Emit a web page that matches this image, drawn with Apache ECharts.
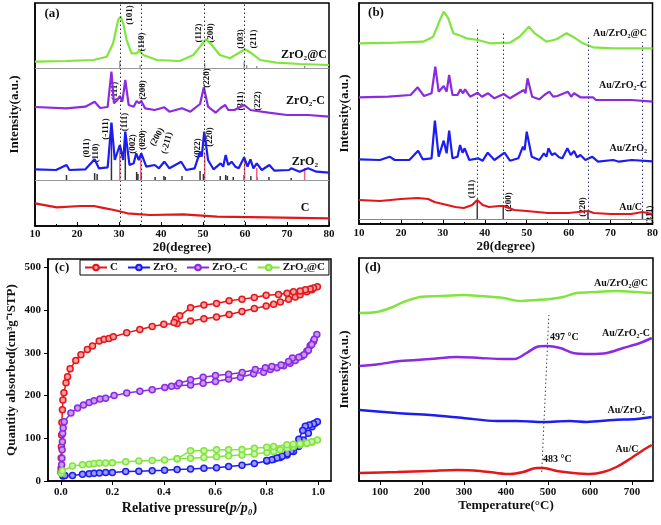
<!DOCTYPE html>
<html><head><meta charset="utf-8">
<script src="https://cdn.jsdelivr.net/npm/echarts@6/dist/echarts.min.js"></script>
<style>html,body{margin:0;padding:0;background:#fff}#c{width:661px;height:525px}</style>
</head><body><div id="c"></div>
<script>
// ---------- Panel (a): XRD of supports (2θ, stacked intensity) ----------
const aC = [[10,22.7],[15.2,18.7],[20.8,20],[24,20],[25.6,18.7],[28.8,16],[32,12.7],[37.4,11],[45.3,11.7],[53.3,9.3],[65.2,8.7],[80,7.7]];
const aZrO2 = [[10,56.7],[15,56],[17.5,61],[18.2,56],[22,56.7],[24.2,66.7],[25.2,57.7],[27.3,58.7],[28.2,103.3],[29,66],[30.2,81],[31,66],[31.5,94.3],[32.5,61],[33.5,62.7],[34.1,72.7],[34.7,66],[35.3,72.7],[36.5,59.3],[38.5,61],[39.5,57.7],[40.8,64.3],[42,57.7],[44.8,64.3],[46,56],[48,57.7],[49.3,74.3],[49.7,69.3],[50.3,94.3],[51.2,66],[52.5,56.7],[54.2,62.7],[54.8,59.3],[55.4,71],[56,61],[56.8,64.3],[57.7,59.3],[58.5,57.7],[59.8,68.7],[60.6,59.3],[61.3,66.7],[62,57.7],[62.8,62.7],[64,56],[65.8,61],[67,55.3],[70.5,56],[71,57.7],[73,54.3],[75,57.7],[77,54.3],[80,53.3]];
const aZrO2C = [[10,119],[17.5,117.7],[22,119.3],[24.2,124.3],[25.5,118],[27.3,119],[28.2,154.3],[28.8,122.7],[29.6,126],[30.2,130],[30.8,124.3],[31.5,146],[32.3,121],[33.5,119.3],[34.2,125],[34.8,122.7],[35.3,125],[36.2,117.7],[38.5,116],[40.8,118.7],[42,114.3],[45,117.7],[47,114.3],[49.3,122],[50.2,138.7],[51.2,119.3],[53,113.3],[54.2,118],[55.3,121],[56,116],[57.5,116],[59.8,121],[61.3,116],[62.8,115],[65.6,113.3],[70,111],[75,111],[80,109.3]];
const aZrO2atC = [[10,164.3],[17.5,165],[23.9,166],[27.1,169.3],[28.6,182.7],[29.8,206],[30.4,209.3],[31,202.7],[31.8,186],[33,172.7],[34.2,172.7],[34.8,175.3],[35.8,171],[39,166],[44.5,165],[47.7,171],[49.3,179.3],[50.7,186.7],[52.1,181],[54,171],[56.4,167.7],[58.4,172.7],[60,176.7],[61.6,172.7],[63.6,166],[67.5,163.3],[73.1,162],[80,161]];
const aRefBaseLow = 45.3, aRefBaseHigh = 157.7;
const aSticksMono = [[17.5,51],[24.2,53],[24.8,52],[28.2,103],[31.5,94],[34.2,54],[34.5,52],[35.3,52],[38.6,49],[40.7,50],[41.0,49],[45.0,50],[49.3,55],[50.1,52],[54.1,50],[55.4,51],[55.8,50],[57.2,49],[59.8,51],[61.4,50],[62.8,49],[65.7,49],[71,48]];
const aSticksTetra = [[30.2,81],[35.2,69],[50.4,73],[59.9,66],[62.8,58],[74.2,58]];
const aSticksTop = [[30.2,165],[35.0,161],[50.4,163],[59.8,164],[60.4,161],[62.8,160],[74.2,160]];
const aDotX = [30.2, 35.2, 50.4, 59.8];

// ---------- Panel (b): XRD of Au catalysts ----------
const bAuC = [[10,24],[15,23],[20,25],[24,26],[26.5,25],[28,22],[30,20],[33,17],[35,16],[37,19],[38.2,24],[39.5,19],[41,17],[43.5,18],[44.5,18],[47,14],[50,13],[55,11],[60,11],[64.6,13],[66,11],[70,10],[75,10],[77.6,12],[80,10]];
const bAuZrO2 = [[10,64.7],[15,64],[17.3,67.3],[18.5,64],[22,64],[24.1,73.3],[25.2,64.7],[27.3,65.7],[28.1,103.3],[29,67.3],[30.2,83.3],[30.9,70.7],[31.5,93.3],[32.3,65.7],[33.5,67.3],[34.1,79],[34.7,71.3],[35.2,75.7],[36.3,64],[38.4,65.7],[39.5,63.3],[40.7,71.3],[42.3,64],[44.7,71.3],[46,63.3],[48,65.7],[49.1,77.3],[49.5,74],[50,92.3],[51.2,67.3],[53,64],[54.1,70.7],[54.7,67.3],[55.2,75.7],[56,69],[56.7,70.7],[57.7,66.7],[58.5,65.7],[59.7,75.7],[60.5,69],[61.3,73],[62,66.7],[62.8,69],[64,64],[65.6,67.3],[67,62.3],[70.6,64],[72,62.3],[75,64],[80,62.7]];
const bAuZrO2C = [[10,126.7],[17,127.3],[22.3,129],[24,136.7],[25.5,128],[27.3,130.7],[28.2,157.3],[29,132.3],[30.2,138],[30.9,132.3],[31.5,149],[32.3,129],[33.5,129],[34.2,134.7],[34.8,130.7],[35.3,134.7],[36.5,127.3],[38.3,131.3],[39.3,127.3],[40.8,130.7],[42.3,125.7],[44.5,130],[46,125.7],[49.3,134],[49.7,130.7],[50.2,145.7],[51.3,127.3],[53,124.7],[54.2,129],[55.4,132.3],[56.3,127.3],[57.3,128],[59.8,132.3],[60.6,127.3],[61.3,130.7],[62.8,126.7],[65.8,126.7],[66.5,124],[70.5,124],[75,124],[80,122.3]];
const bAuZrO2atC = [[10,180.7],[19,181.3],[25.3,182.3],[27.7,187.3],[29.3,204],[30.2,212.3],[31.3,205.7],[32.5,190.7],[34.4,188],[35.6,185.7],[38.4,184],[41.2,180.7],[46,181.3],[48.3,187.3],[50.5,197.3],[51.9,190.7],[54.7,182.3],[57.1,184.7],[59.5,190.7],[61,187.3],[63.4,180.7],[65.8,176.7],[70.6,175.7],[80,175.7]];
const bRefBase = 5;
const bSticksAu = [[38.2,24],[44.4,17],[64.6,12],[77.6,11]];
const bDots = [[38.2,196],[44.4,192],[64.6,187],[77.6,182]];

// ---------- Panel (c): N2 isotherms (p/p0, cm3/g) ----------
const cC = [[0.0005,20],[0.001,30],[0.0015,54],[0.002,80],[0.003,108],[0.004,137],[0.006,167],[0.008,190],[0.012,207],[0.02,230],[0.026,244],[0.036,263],[0.058,282],[0.078,296],[0.103,308],[0.123,316],[0.149,328],[0.168,332],[0.187,334],[0.204,338],[0.256,347],[0.307,355],[0.355,362],[0.40,367],[0.452,369],[0.504,375],[0.556,380],[0.605,384],[0.654,390],[0.704,397],[0.752,404],[0.798,410],[0.827,414],[0.853,419],[0.885,426],[0.911,431],[0.930,436],[0.956,443],[0.976,448],[0.997,455],[0.982,452],[0.969,450],[0.950,448],[0.930,445],[0.904,443],[0.879,440],[0.846,437],[0.798,435],[0.752,430],[0.704,426],[0.654,422],[0.605,416],[0.556,412],[0.504,406],[0.462,387],[0.446,379],[0.44,371]];
const cZrO2 = [[0.008,12],[0.0155,13],[0.045,13],[0.084,16],[0.11,17],[0.129,18],[0.15,19],[0.174,20],[0.2,20],[0.252,22],[0.303,23],[0.355,24],[0.403,25],[0.452,27],[0.504,28],[0.556,30],[0.605,31],[0.652,34],[0.704,37],[0.752,41],[0.801,47],[0.827,51],[0.853,55],[0.879,61],[0.904,69],[0.924,81],[0.943,96],[0.962,112],[0.976,127],[0.988,135],[0.997,139],[0.982,134],[0.966,131],[0.95,128],[0.94,118],[0.925,98],[0.91,80],[0.895,70],[0.88,64],[0.86,58],[0.84,54],[0.82,50],[0.80,48]];
const cZrO2C = [[0.002,22],[0.003,38],[0.004,53],[0.005,73],[0.006,92],[0.007,112],[0.009,124],[0.013,139],[0.039,159],[0.065,171],[0.088,178],[0.11,184],[0.129,188],[0.152,192],[0.174,194],[0.207,200],[0.256,206],[0.307,210],[0.355,214],[0.404,219],[0.452,223],[0.504,225],[0.553,229],[0.601,233],[0.652,239],[0.698,243],[0.749,251],[0.788,255],[0.814,261],[0.840,265],[0.866,270],[0.891,276],[0.911,282],[0.937,292],[0.956,304],[0.969,317],[0.982,327],[0.995,343],[0.985,332],[0.975,320],[0.962,306],[0.945,296],[0.925,290],[0.90,288],[0.885,280],[0.856,272],[0.82,268],[0.795,265],[0.756,261],[0.705,254],[0.652,250],[0.601,247],[0.553,243],[0.504,237],[0.46,229],[0.43,222]];
const cZrO2atC = [[0.002,18],[0.006,24],[0.045,35],[0.084,38],[0.11,39],[0.129,41],[0.149,42],[0.174,42],[0.2,43],[0.252,45],[0.303,47],[0.355,48],[0.403,49],[0.452,52],[0.504,53],[0.556,55],[0.605,57],[0.652,59],[0.704,61],[0.752,63],[0.801,67],[0.827,69],[0.853,73],[0.879,77],[0.904,81],[0.93,85],[0.956,88],[0.976,91],[0.997,96],[0.975,92],[0.956,89],[0.93,87],[0.904,86],[0.879,85],[0.827,81],[0.80,79],[0.752,77],[0.704,74],[0.652,73],[0.605,73],[0.556,71],[0.504,71],[0.452,52]];
const cXTicks = [0,0.2,0.4,0.6,0.8,1.0];
const cYTicks = [0,100,200,300,400,500];

// ---------- Panel (d): TPR-like traces (°C, stacked intensity) ----------
const dAuC = [[51,8],[140,9],[219,10],[283,11],[338,10],[378,8],[410,7],[441,9],[473,13],[489,13],[521,10],[560,8],[600,7],[632,9],[663,14],[695,22],[727,31],[747,36]];
const dAuZrO2 = [[51,71],[140,68],[219,66],[298,63],[378,60],[425,60],[489,59],[552,60],[592,59],[656,61],[711,62],[747,64]];
const dAuZrO2C = [[51,115],[100,117],[148,120],[219,122],[283,124],[338,123],[394,122],[421,122],[449,128],[473,134],[497,135],[529,133],[560,128],[600,127],[640,128],[679,133],[719,138],[747,143]];
const dAuZrO2atC = [[51,168],[92,169],[124,173],[156,179],[195,184],[243,185],[298,186],[338,185],[394,183],[433,180],[473,181],[505,182],[536,184],[568,188],[616,189],[663,190],[711,189],[747,188]];
const dDot = [[485,9],[502,166]];
const dXTicks = [100,200,300,400,500,600,700];

const RED='#e3161b', BLUE='#1d1df2', PURPLE='#8a2be2', GREEN='#82e43e';
const F = '"Liberation Serif","Times New Roman",serif';
const lab = {fontFamily:F, fontWeight:'bold', fontSize:11, color:'#111'};
const nameS = {fontFamily:F, fontWeight:'bold', fontSize:13, color:'#111'};
const DOT = [1.5, 2.5];

function xrdLine(name, data, color, gi){
  return {name, type:'line', xAxisIndex:gi, yAxisIndex:gi, data, symbol:'none',
    lineStyle:{color, width:2.2}, itemStyle:{color}, silent:true};
}
function sticks(data, base, color, gi, w){
  return {type:'custom', xAxisIndex:gi, yAxisIndex:gi, silent:true,
    data: data.map(d=>[d[0], base, d[1]]),
    renderItem:(p, api)=>{
      const a = api.coord([api.value(0), api.value(1)]);
      const b = api.coord([api.value(0), api.value(2)]);
      return {type:'line', shape:{x1:a[0],y1:a[1],x2:b[0],y2:b[1]}, style:{stroke:color, lineWidth:w||1.5}};
    }};
}
function tint(c){ return {[RED]:'#f7a0a0',[BLUE]:'#9a9af8',[PURPLE]:'#c89af0',[GREEN]:'#c8f4a8'}[c]; }
function iso(name, data, color){
  return {name, type:'line', xAxisIndex:2, yAxisIndex:2, data, symbol:'circle', symbolSize:6,
    lineStyle:{color, width:1.5}, itemStyle:{color:tint(color), borderColor:color, borderWidth:1.5}};
}
function tpr(name, data, color){
  return {name, type:'line', xAxisIndex:3, yAxisIndex:3, data, symbol:'none', smooth:0.3,
    lineStyle:{color, width:2.5}, itemStyle:{color}, silent:true};
}
const ml = (data, color) => ({silent:true, symbol:['none','none'], label:{show:false},
  lineStyle:{type:DOT, color, width:1}, data});

const series = [
  xrdLine('aC', aC, RED, 0), xrdLine('aZrO2', aZrO2, BLUE, 0),
  xrdLine('aZrO2C', aZrO2C, PURPLE, 0), xrdLine('aZrO2atC', aZrO2atC, GREEN, 0),
  sticks(aSticksMono, aRefBaseLow, '#333', 0, 1.5),
  sticks(aSticksTetra, aRefBaseLow, '#f06080', 0, 1.5),
  sticks(aSticksTop, aRefBaseHigh, '#888', 0, 1.2),
  xrdLine('bAuC', bAuC, RED, 1), xrdLine('bAuZrO2', bAuZrO2, BLUE, 1),
  xrdLine('bAuZrO2C', bAuZrO2C, PURPLE, 1), xrdLine('bAuZrO2atC', bAuZrO2atC, GREEN, 1),
  sticks(bSticksAu, bRefBase, '#444', 1, 1.5),
  iso('C', cC, RED), iso('ZrO₂', cZrO2, BLUE), iso('ZrO₂-C', cZrO2C, PURPLE), iso('ZrO₂@C', cZrO2atC, GREEN),
  tpr('dAuC', dAuC, RED), tpr('dAuZrO2', dAuZrO2, BLUE), tpr('dAuZrO2C', dAuZrO2C, PURPLE), tpr('dAuZrO2atC', dAuZrO2atC, GREEN)
];
series[0].markLine = ml([...aDotX.map(x=>({xAxis:x})), {yAxis:aRefBaseLow, lineStyle:{type:'solid', color:'#999', width:1}}, {yAxis:aRefBaseHigh, lineStyle:{type:'solid', color:'#999', width:1}}], '#333');
series[7].markLine = ml([...bDots.map(d=>[{coord:[d[0], bRefBase]},{coord:[d[0], d[1]]}]), {yAxis:bRefBase, lineStyle:{type:'solid', color:'#888', width:1}}], '#3a3a7a');
series[16].markLine = ml([[{coord:dDot[0]},{coord:dDot[1]}]], '#444');

function xAx(gi, o){
  return Object.assign({gridIndex:gi, type:'value', splitLine:{show:false},
    axisLine:{onZero:false, lineStyle:{color:'#000', width:1.5}},
    axisTick:{lineStyle:{color:'#000', width:1.2}, length:4},
    axisLabel:Object.assign({}, lab), nameLocation:'middle', nameTextStyle:nameS}, o);
}
function yAx(gi, o){
  return Object.assign({gridIndex:gi, type:'value', splitLine:{show:false},
    axisLine:{onZero:false, lineStyle:{color:'#000', width:1.5}},
    axisTick:{show:false}, axisLabel:{show:false},
    nameLocation:'middle', nameRotate:90, nameTextStyle:nameS}, o);
}

const option = {
  animation:false, backgroundColor:'#fff',
  grid:[
    {left:35, top:3, width:294, height:223, show:true, borderColor:'#000', borderWidth:1.5},
    {left:359, top:3, width:294, height:221, show:true, borderColor:'#000', borderWidth:1.5},
    {left:48, top:259, width:283, height:222, show:true, borderColor:'#000', borderWidth:1.5},
    {left:359, top:258, width:294, height:223, show:true, borderColor:'#000', borderWidth:1.5}
  ],
  xAxis:[
    xAx(0,{min:10, max:80, interval:10, name:'2θ(degree)', nameGap:15,
      axisTick:{inside:true, length:4, lineStyle:{color:'#000'}}, minorTick:{show:true, splitNumber:2, length:2},
      axisLabel:Object.assign({}, lab, {margin:3})}),
    xAx(1,{min:10, max:80, interval:10, name:'2θ(degree)', nameGap:15,
      axisTick:{inside:true, length:4, lineStyle:{color:'#000'}}, minorTick:{show:true, splitNumber:2, length:2},
      axisLabel:Object.assign({}, lab, {margin:4})}),
    xAx(2,{min:-0.05, max:1.05, name:'{b|Relative pressure(}{i|p/p₀}{b|)}', nameGap:20,
      nameTextStyle:Object.assign({}, nameS, {rich:{b:{fontFamily:F, fontWeight:'bold', fontSize:14, color:'#111'}, i:{fontFamily:F, fontWeight:'bold', fontStyle:'italic', fontSize:14, color:'#111'}}}),
      axisTick:{length:4, lineStyle:{color:'#000'}, customValues:cXTicks},
      axisLabel:Object.assign({}, lab, {margin:6, customValues:cXTicks, formatter:v=>v.toFixed(1)})}),
    xAx(3,{min:50, max:750, name:'Temperature(°C)', nameGap:16,
      axisTick:{length:4, lineStyle:{color:'#000'}, customValues:dXTicks},
      axisLabel:Object.assign({}, lab, {margin:6, customValues:dXTicks})})
  ],
  yAxis:[
    yAx(0,{min:0, max:223, name:'Intensity(a.u.)', nameGap:14}),
    yAx(1,{min:0, max:221, name:'Intensity(a.u.)', nameGap:8}),
    yAx(2,{min:0, max:520, name:'Quantity absorbed(cm³g⁻¹STP)', nameGap:30,
      axisTick:{show:true, length:4, lineStyle:{color:'#000'}, customValues:cYTicks},
      axisLabel:Object.assign({}, lab, {show:true, margin:7, customValues:cYTicks})}),
    yAx(3,{min:0, max:223, name:'Intensity(a.u.)', nameGap:8})
  ],
  legend:{data:['C','ZrO₂','ZrO₂-C','ZrO₂@C'], left:80, top:260, itemWidth:22, itemHeight:7, itemGap:9,
    padding:[2,4,2,4], borderColor:'#000', borderWidth:1, textStyle:{fontFamily:F, fontWeight:'bold', fontSize:11, color:'#111', padding:[0,0,0,-2]}},
  series,
  graphic:[]
};

const G = option.graphic;
function T(x, y, text, size, align, rot){
  G.push({type:'text', x, y, rotation:rot||0, silent:true,
    style:{text, font:`bold ${size}px ${F}`, fill:'#111', align:align||'center', verticalAlign:'middle'}});
}
T(52,14,'(a)',13); T(376,13,'(b)',13); T(62,268,'(c)',13); T(373,268,'(d)',13);
const R = Math.PI/2;
[['(101)',130,15],['(110)',142,42],['(112)',199,33],['(200)',211,33],['(103)',241,39],['(211)',254,39],
 ['(111)',115,91],['(200)',143,90],['(220)',207,78],['(311)',241,101],['(222)',258,101],
 ['(011)',87,148],['(110)',96,153],['(-111)',106,129],['(111)',125,122],['(002)',133,144],['(020)',143,140],['(022)',198,148],['(220)',210,137]
].forEach(d=>T(d[1],d[2],d[0],9,'center',R));
T(157,137,'(200)',9,'center',Math.PI/3); T(167,143,'(-211)',9,'center',Math.PI*0.42);
T(327,55,'ZrO₂@C',12,'right'); T(325,101,'ZrO₂-C',12,'right'); T(318,162,'ZrO₂',12,'right'); T(305,208,'C',12,'center');
T(647,33,'Au/ZrO₂@C',10,'right'); T(647,85,'Au/ZrO₂-C',10,'right'); T(647,148,'Au/ZrO₂',10,'right'); T(642,207,'Au/C',10,'right');
[['(111)',472,189],['(200)',509,202],['(220)',583,207],['(311)',650,215]].forEach(d=>T(d[1],d[2],d[0],9,'center',R));
T(648,283,'Au/ZrO₂@C',10,'right'); T(650,333,'Au/ZrO₂-C',10,'right'); T(645,410,'Au/ZrO₂',10,'right'); T(627,449,'Au/C',10,'center');
T(550,337,'497 °C',10,'left'); T(543,459,'483 °C',10,'left');

const chart = echarts.init(document.getElementById('c'), null, {renderer:'canvas'});
chart.setOption(option);
</script></body></html>
